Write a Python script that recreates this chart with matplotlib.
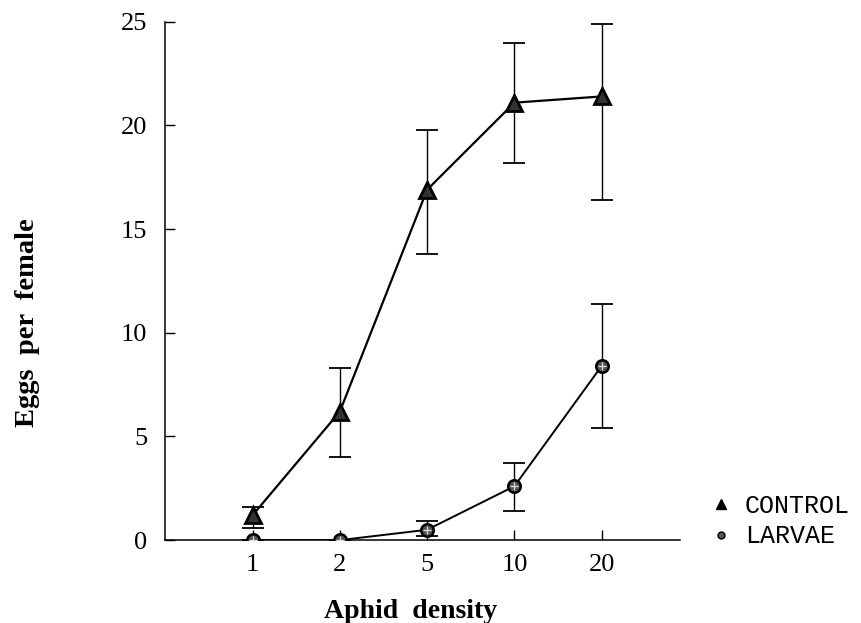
import matplotlib
matplotlib.use("Agg")
import matplotlib.pyplot as plt
import numpy as np
from matplotlib.lines import Line2D

categories = ["1", "2", "5", "10", "20"]
control = [1.2, 6.2, 16.9, 21.1, 21.4]
control_hi = [1.6, 8.3, 19.8, 24.0, 24.9]
control_lo = [0.6, 4.0, 13.8, 18.2, 16.4]
larvae = [0.0, 0.0, 0.5, 2.6, 8.4]
larvae_hi = [0.0, 0.0, 0.9, 3.7, 11.4]
larvae_lo = [0.0, 0.0, 0.2, 1.4, 5.4]
yticks = [0, 5, 10, 15, 20, 25]

fig = plt.figure(figsize=(8.61, 6.23), dpi=100)
ax = fig.add_axes([0.192, 0.133, 0.598, 0.832])
x = np.arange(1, len(categories) + 1)

c = np.array(control); l = np.array(larvae)
ax.errorbar(x, c, yerr=[c - np.array(control_lo), np.array(control_hi) - c],
            fmt='none', ecolor='black', elinewidth=1.0, capsize=8, capthick=1.3, zorder=2)
ax.errorbar(x, l, yerr=[l - np.array(larvae_lo), np.array(larvae_hi) - l],
            fmt='none', ecolor='black', elinewidth=1.0, capsize=8, capthick=1.3, zorder=2)
ax.plot(x, c, '-', color='black', lw=1.6, marker='^', ms=11.5, mfc='#333333',
        mec='black', mew=2.0, zorder=3)
ax.plot(x, l, '-', color='black', lw=1.4, marker='o', ms=9, mfc='#555555',
        mec='black', mew=1.8, zorder=3)
ax.plot(x, l, 'none', marker='+', ms=6, mec='#dddddd', mew=0.9, zorder=4)

ax.set_xlim(0, 5.9)
ax.set_ylim(0, 25)
ax.set_xticks(x)
ax.set_xticklabels(categories)
ax.set_yticks(yticks)
for s in ['top', 'right']:
    ax.spines[s].set_visible(False)
for s in ['left', 'bottom']:
    ax.spines[s].set_linewidth(1.1)
ax.tick_params(direction='in', length=7, width=1.0, labelsize=19)
ax.tick_params(axis='y', pad=13)
ax.tick_params(axis='x', pad=10)
for lab in ax.get_xticklabels() + ax.get_yticklabels():
    lab.set_fontfamily('Liberation Serif')

ax.set_xlabel("Aphid  density", fontsize=20, fontweight='bold',
              family='Liberation Serif', va='top')
ax.xaxis.set_label_coords(0.476, -0.113)
ax.set_ylabel("Eggs  per  female", fontsize=20.5, fontweight='bold',
              family='Liberation Serif')
ax.yaxis.set_label_coords(-0.243, 0.42)

h = [Line2D([], [], ls='none', marker='^', ms=7, color='black'),
     Line2D([], [], ls='none', marker='o', ms=5, color='black', mfc='#555555')]
leg = fig.legend(h, ["CONTROL", "LARVAE"], loc='upper left',
                 bbox_to_anchor=(0.797, 0.243), frameon=False,
                 prop={'family': 'Liberation Mono', 'size': 18},
                 handletextpad=0.45, labelspacing=0.25, handlelength=1.0)

fig.savefig("out.png", dpi=100)
